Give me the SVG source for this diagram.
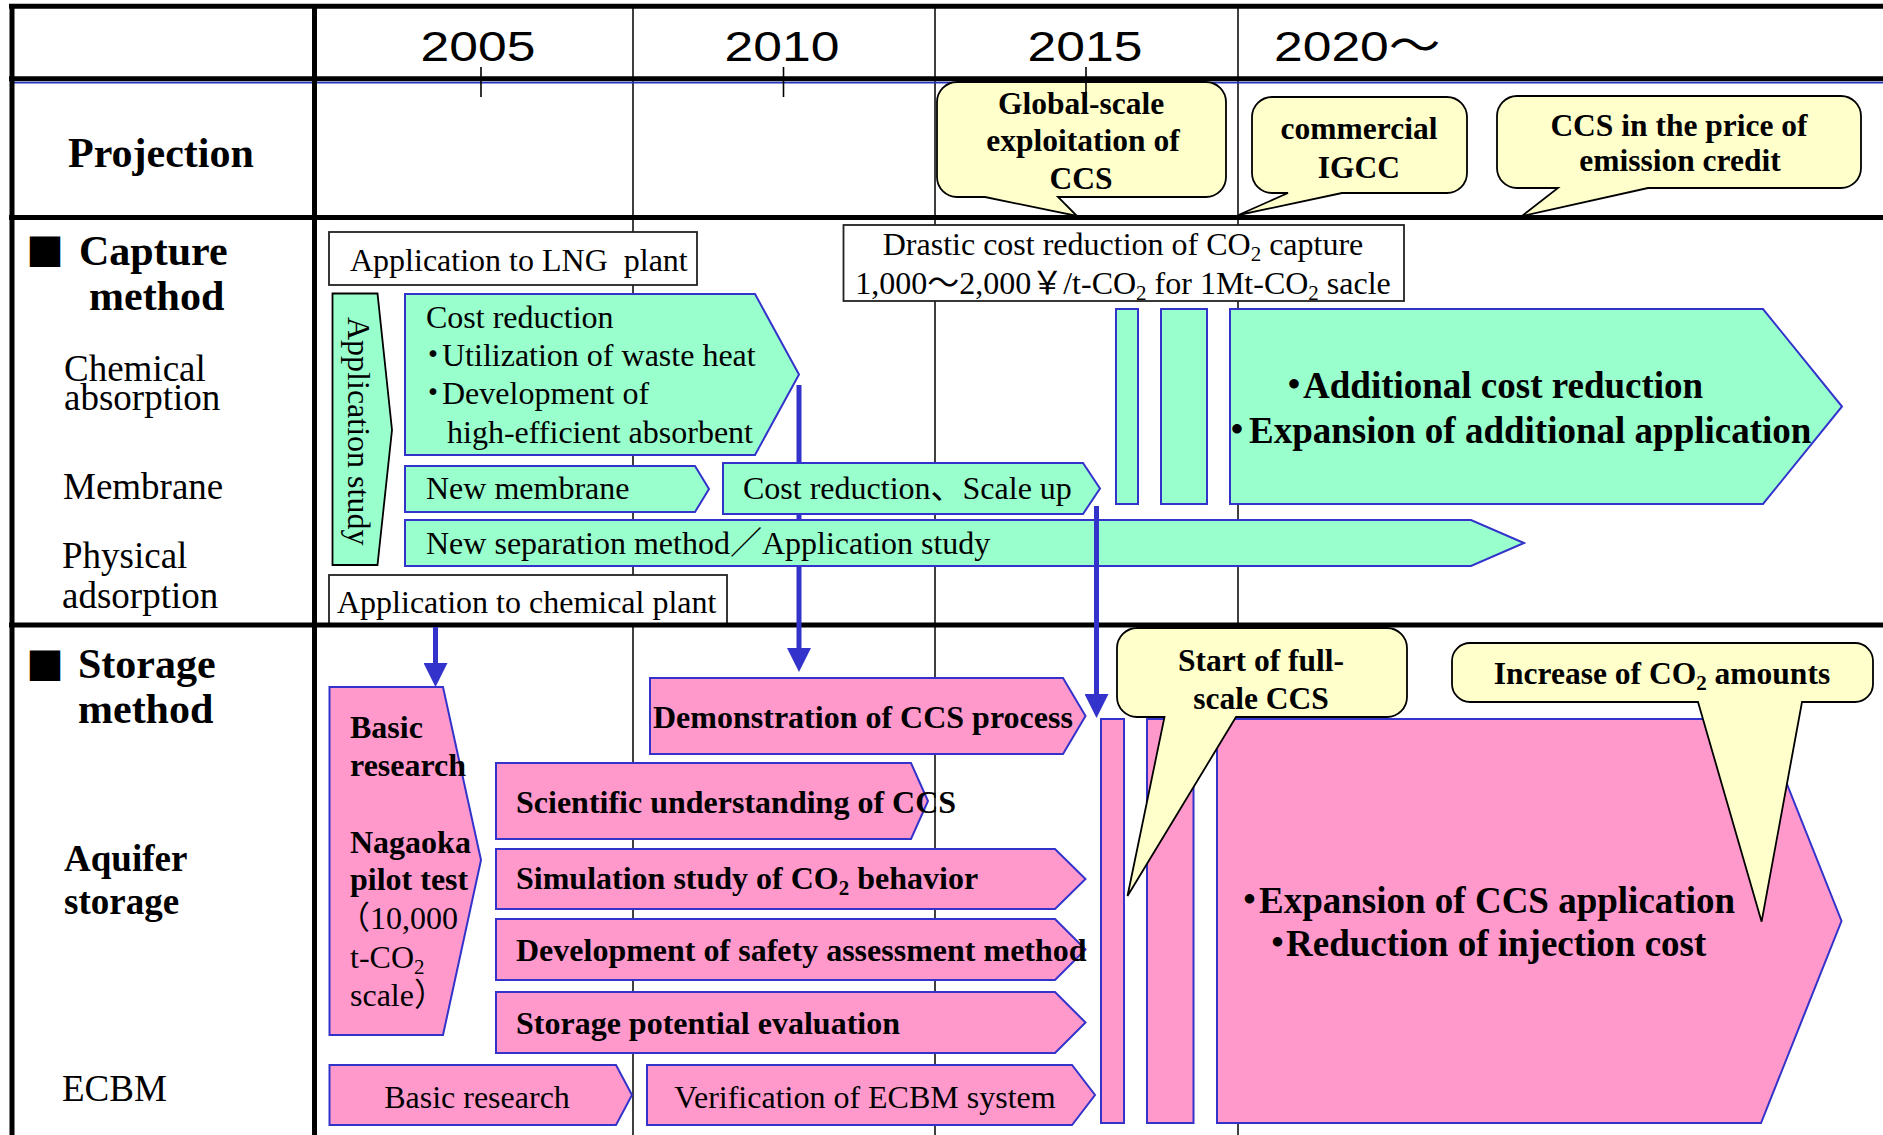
<svg xmlns="http://www.w3.org/2000/svg" width="1883" height="1135" viewBox="0 0 1883 1135">
  <defs>
    <style>
      .grid { stroke: #000; stroke-width: 1.5; fill: none; }
      .frame { stroke: #000; stroke-width: 5; fill: none; }
      .tick { stroke: #000; stroke-width: 1.6; }
      .green { fill: #99FFCC; stroke: #3333CC; stroke-width: 2; }
      .greenk { fill: #99FFCC; stroke: #000; stroke-width: 1.8; }
      .pink { fill: #FF99CC; stroke: #3333CC; stroke-width: 2; }
      .white { fill: #FFFFFF; stroke: #222; stroke-width: 1.8; }
      .callout { fill: #FFFFCC; stroke: #000; stroke-width: 1.8; }
      .conn { stroke: #3333CC; stroke-width: 5; fill: none; }
      .yr { font-family: "Liberation Sans", "Noto Sans CJK JP", sans-serif; font-size: 43px; fill: #000; }
      .t { font-family: "Liberation Serif", "Noto Sans CJK JP", serif; font-size: 32px; fill: #000; }
      .b { font-family: "Liberation Serif", "Noto Sans CJK JP", serif; font-size: 32px; font-weight: bold; fill: #000; }
      .lab { font-family: "Liberation Serif", "Noto Sans CJK JP", serif; font-size: 37px; fill: #000; }
      .labb { font-family: "Liberation Serif", "Noto Sans CJK JP", serif; font-size: 37px; font-weight: bold; fill: #000; }
      .head { font-family: "Liberation Serif", "Noto Sans CJK JP", serif; font-size: 42px; font-weight: bold; fill: #000; }
      .sq { font-family: "Noto Sans CJK JP", sans-serif; font-size: 38px; fill: #000; }
      .big { font-family: "Liberation Serif", "Noto Sans CJK JP", serif; font-size: 37px; font-weight: bold; fill: #000; }
      .cb { font-family: "Liberation Serif", "Noto Sans CJK JP", serif; font-size: 31.5px; font-weight: bold; fill: #000; text-anchor: middle; }
    </style>
    <marker id="head" markerUnits="userSpaceOnUse" markerWidth="24" markerHeight="24" refX="0" refY="12" orient="auto" viewBox="0 0 24 24">
      <path d="M0,0 L24,12 L0,24 Z" fill="#3333CC"/>
    </marker>
  </defs>

  <rect x="0" y="0" width="1883" height="1135" fill="#FFFFFF"/>

  <!-- thin year grid lines -->
  <g id="grid">
    <line class="grid" x1="633" y1="4" x2="633" y2="1135"/>
    <line class="grid" x1="935" y1="4" x2="935" y2="1135"/>
    <line class="grid" x1="1238" y1="4" x2="1238" y2="1135"/>
  </g>

  <!-- year header -->
  <g id="years">
    <text class="yr" text-anchor="middle" transform="translate(478,61) scale(1.2,1)">2005</text>
    <text class="yr" text-anchor="middle" transform="translate(782,61) scale(1.2,1)">2010</text>
    <text class="yr" text-anchor="middle" transform="translate(1085,61) scale(1.2,1)">2015</text>
    <text class="yr" transform="translate(1274,61) scale(1.2,1)">2020～</text>
  </g>

  <!-- row labels -->
  <g id="labels">
    <text class="head" x="68" y="167" font-size="43">Projection</text>
    <text class="sq" x="26" y="266">■</text>
    <text class="head" x="79" y="265">Capture</text>
    <text class="head" x="89" y="310">method</text>
    <text class="lab" x="64" y="381">Chemical</text>
    <text class="lab" x="64" y="410">absorption</text>
    <text class="lab" x="63" y="499">Membrane</text>
    <text class="lab" x="62" y="568">Physical</text>
    <text class="lab" x="62" y="608">adsorption</text>
    <text class="sq" x="26" y="680">■</text>
    <text class="head" x="78" y="678">Storage</text>
    <text class="head" x="78" y="723">method</text>
    <text class="labb" x="64" y="871">Aquifer</text>
    <text class="labb" x="64" y="914">storage</text>
    <text class="lab" x="62" y="1101">ECBM</text>
  </g>

  <!-- capture method nodes -->
  <g id="lng-plant">
    <rect class="white" x="329" y="232" width="368" height="53"/>
    <text class="t" x="350" y="271" style="white-space:pre">Application to LNG  plant</text>
  </g>
  <g id="application-study">
    <polygon class="greenk" points="332.5,293.5 377.5,293.5 392,430 377.5,565 332.5,565"/>
    <text class="t" transform="translate(348,317) rotate(90)">Application study</text>
  </g>
  <g id="cost-reduction">
    <polygon class="green" points="405,294 755,294 799,374.5 755,455 405,455"/>
    <text class="t" x="426" y="328">Cost reduction</text>
    <text class="t" y="366"><tspan x="417">・</tspan><tspan x="442">Utilization of waste heat</tspan></text>
    <text class="t" y="404"><tspan x="417">・</tspan><tspan x="442">Development of</tspan></text>
    <text class="t" x="447" y="443">high-efficient absorbent</text>
  </g>
  <g id="new-membrane">
    <polygon class="green" points="405,466 695,466 709,489 695,512 405,512"/>
    <text class="t" x="426" y="499">New membrane</text>
  </g>
  <g id="cost-scale">
    <polygon class="green" points="723,463 1083,463 1100,488.5 1083,514 723,514"/>
    <text class="t" x="743" y="499" font-size="31.5">Cost reduction、Scale up</text>
  </g>
  <g id="new-separation">
    <polygon class="green" points="405,520 1471,520 1524,543 1471,566 405,566"/>
    <text class="t" x="426" y="554">New separation method／Application study</text>
  </g>
  <g id="chemical-plant">
    <rect class="white" x="329" y="575" width="398" height="50"/>
    <text class="t" x="337" y="613">Application to chemical plant</text>
  </g>
  <g id="drastic-cost">
    <rect class="white" x="843.5" y="225" width="560.5" height="76"/>
    <text class="t" x="1123" y="255" text-anchor="middle">Drastic cost reduction of CO<tspan font-size="21" dy="6">2</tspan><tspan dy="-6"> capture</tspan></text>
    <text class="t" x="1123" y="294" text-anchor="middle">1,000～2,000￥/t-CO<tspan font-size="21" dy="6">2</tspan><tspan dy="-6"> for 1Mt-CO</tspan><tspan font-size="21" dy="6">2</tspan><tspan dy="-6"> sacle</tspan></text>
  </g>
  <g id="capture-bar-1">
    <rect class="green" x="1116" y="309" width="22" height="195"/>
  </g>
  <g id="capture-bar-2">
    <rect class="green" x="1161" y="309" width="46" height="195"/>
  </g>
  <g id="capture-future">
    <polygon class="green" points="1230,309 1763,309 1842,406.5 1763,504 1230,504"/>
    <text class="big" y="398"><tspan x="1275.5">・</tspan><tspan x="1303">Additional cost reduction</tspan></text>
    <text class="big" y="443"><tspan x="1218.5">・</tspan><tspan x="1249">Expansion of additional application</tspan></text>
  </g>

  <!-- storage method nodes -->
  <g id="nagaoka">
    <polygon class="pink" points="329.5,687 443,687 481,860 443,1035 329.5,1035"/>
    <text class="b" x="350" y="738">Basic</text>
    <text class="b" x="350" y="776">research</text>
    <text class="b" x="350" y="853">Nagaoka</text>
    <text class="b" x="350" y="890">pilot test</text>
    <text class="t" x="338" y="929">（10,000</text>
    <text class="t" x="350" y="968">t-CO<tspan font-size="21" dy="6">2</tspan></text>
    <text class="t" x="350" y="1006">scale）</text>
  </g>
  <g id="demonstration">
    <polygon class="pink" points="650,678 1063,678 1085.5,716 1063,754 650,754"/>
    <text class="b" x="653" y="728">Demonstration of CCS process</text>
  </g>
  <g id="scientific">
    <polygon class="pink" points="496,763 911,763 928,801 911,839 496,839"/>
    <text class="b" x="516" y="813">Scientific understanding of CCS</text>
  </g>
  <g id="simulation">
    <polygon class="pink" points="496,849 1055,849 1085.5,879 1055,909 496,909"/>
    <text class="b" x="516" y="889">Simulation study of CO<tspan font-size="21" dy="6">2</tspan><tspan dy="-6"> behavior</tspan></text>
  </g>
  <g id="safety">
    <polygon class="pink" points="496,919 1055,919 1085.5,949.5 1055,980 496,980"/>
    <text class="b" x="516" y="961">Development of safety assessment method</text>
  </g>
  <g id="potential">
    <polygon class="pink" points="496,992 1055,992 1085.5,1022.5 1055,1053 496,1053"/>
    <text class="b" x="516" y="1034">Storage potential evaluation</text>
  </g>
  <g id="ecbm-basic">
    <polygon class="pink" points="329.5,1065 616,1065 632,1095 616,1125 329.5,1125"/>
    <text class="t" x="477" y="1108" text-anchor="middle">Basic research</text>
  </g>
  <g id="ecbm-verification">
    <polygon class="pink" points="647,1065 1072,1065 1095,1095 1072,1125 647,1125"/>
    <text class="t" x="865" y="1108" text-anchor="middle">Verification of ECBM system</text>
  </g>
  <g id="storage-bar-1">
    <rect class="pink" x="1101" y="719" width="23" height="404"/>
  </g>
  <g id="storage-bar-2">
    <rect class="pink" x="1147" y="719" width="46.5" height="404"/>
  </g>
  <g id="storage-future">
    <polygon class="pink" points="1217,719 1761,719 1841.5,921 1761,1123 1217,1123"/>
    <text class="big" y="913"><tspan x="1231">・</tspan><tspan x="1259">Expansion of CCS application</tspan></text>
    <text class="big" y="956"><tspan x="1259">・</tspan><tspan x="1286">Reduction of injection cost</tspan></text>
  </g>

  <!-- table frame -->
  <g id="frame">
    <line class="frame" x1="9" y1="6.3" x2="1883" y2="6.3" stroke-width="4.5"/>
    <line class="frame" x1="9" y1="78.8" x2="1883" y2="78.8" stroke-width="5.5"/>
    <line x1="12" y1="82.6" x2="1883" y2="82.6" stroke="#2233BB" stroke-width="1.8"/>
    <line class="frame" x1="9" y1="217.5" x2="1883" y2="217.5" stroke-width="4.5"/>
    <line class="frame" x1="9" y1="625" x2="1883" y2="625" stroke-width="4.5"/>
    <line class="frame" x1="12" y1="4" x2="12" y2="1135"/>
    <line class="frame" x1="314.5" y1="4" x2="314.5" y2="1135"/>
  </g>

  <!-- flow arrows -->
  <g id="connectors">
    <path class="conn" d="M799,385 V463 M799,514 V520 M799,566 V648" marker-end="url(#head)"/>
    <path class="conn" d="M435.5,627 V663" marker-end="url(#head)"/>
    <path class="conn" d="M1096.5,506 V694" marker-end="url(#head)"/>
  </g>

  <!-- callouts -->
  <g id="callout-global">
    <path class="callout" d="M957,82 H1206 A20,20 0 0 1 1226,102 V177 A20,20 0 0 1 1206,197 H1058 L1077,216 L985,197 H957 A20,20 0 0 1 937,177 V102 A20,20 0 0 1 957,82 Z"/>
    <text class="cb" x="1081" y="114">Global-scale</text>
    <text class="cb" x="1083" y="151">exploitation of</text>
    <text class="cb" x="1081" y="189">CCS</text>
  </g>
  <g id="callout-igcc">
    <path class="callout" d="M1272,97 H1447 A20,20 0 0 1 1467,117 V173 A20,20 0 0 1 1447,193 H1342 L1238.5,215 L1288,193 H1272 A20,20 0 0 1 1252,173 V117 A20,20 0 0 1 1272,97 Z"/>
    <text class="cb" x="1359" y="139">commercial</text>
    <text class="cb" x="1359" y="178">IGCC</text>
  </g>
  <g id="callout-credit">
    <path class="callout" d="M1517,96 H1841 A20,20 0 0 1 1861,116 V168 A20,20 0 0 1 1841,188 H1648 L1522,216 L1558,188 H1517 A20,20 0 0 1 1497,168 V116 A20,20 0 0 1 1517,96 Z"/>
    <text class="cb" x="1679" y="136">CCS in the price of</text>
    <text class="cb" x="1680" y="171">emission credit</text>
  </g>
  <g id="callout-fullscale">
    <path class="callout" d="M1137,628 H1387 A20,20 0 0 1 1407,648 V697 A20,20 0 0 1 1387,717 H1236 L1127.5,896 L1164.5,717 H1137 A20,20 0 0 1 1117,697 V648 A20,20 0 0 1 1137,628 Z"/>
    <text class="cb" x="1261" y="671">Start of full-</text>
    <text class="cb" x="1261" y="709">scale CCS</text>
  </g>
  <g id="callout-increase">
    <path class="callout" d="M1470,643 H1855 A18,18 0 0 1 1873,661 V684 A18,18 0 0 1 1855,702 H1802 L1761.6,921.7 L1698,702 H1470 A18,18 0 0 1 1452,684 V661 A18,18 0 0 1 1470,643 Z"/>
    <text class="cb" x="1662" y="684">Increase of CO<tspan font-size="21" dy="6">2</tspan><tspan dy="-6"> amounts</tspan></text>
  </g>

  <!-- year ticks -->
  <g id="ticks">
    <line class="tick" x1="481" y1="67" x2="481" y2="97"/>
    <line class="tick" x1="783.5" y1="67" x2="783.5" y2="97"/>
    <line class="tick" x1="1086" y1="67" x2="1086" y2="97"/>
  </g>
</svg>
